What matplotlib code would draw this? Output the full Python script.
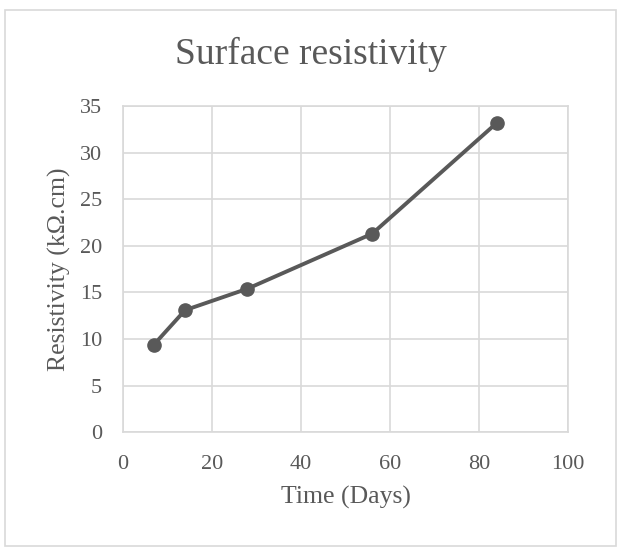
import matplotlib.pyplot as plt
from matplotlib.patches import Rectangle

days = [7, 14, 28, 56, 84]
resistivity = [9.4, 13.1, 15.4, 21.3, 33.2]
x_ticks = [0, 20, 40, 60, 80, 100]
y_ticks = [0, 5, 10, 15, 20, 25, 30, 35]

txt = "#595959"
grid = "#d9d9d9"
plt.rcParams['font.family'] = ['Liberation Serif', 'DejaVu Serif']

fig = plt.figure(figsize=(6.21, 5.5), dpi=100)
ax = fig.add_axes([0.1976, 0.214, 0.7174, 0.5933])

ax.plot(days, resistivity, color=txt, lw=2.8, marker="o", ms=9.5, zorder=3)

ax.set_xlim(0, 100)
ax.set_ylim(0, 35)
ax.set_xticks(x_ticks)
ax.set_yticks(y_ticks)
ax.grid(True, color=grid, lw=1.2)
ax.set_axisbelow(True)
for s in ax.spines.values():
    s.set_color(grid)
    s.set_linewidth(1.2)
ax.tick_params(length=0, labelsize=16, colors=txt)
ax.tick_params(axis="y", pad=15)
ax.tick_params(axis="x", pad=16)

ax.set_xlabel("Time (Days)", fontsize=18.5, color=txt)
ax.xaxis.set_label_coords(0.5, -0.165)
ax.set_ylabel("Resistivity (kΩ.cm)", fontsize=18.5, color=txt)
ax.yaxis.set_label_coords(-0.116, 0.5)
fig.text(0.5, 1 - 64 / 550, "Surface resistivity", ha="center", va="baseline",
         fontsize=27, color=txt)

fig.patches.append(Rectangle((5 / 621, 4 / 550), 611 / 621, 536 / 550,
                             transform=fig.transFigure, fill=False,
                             edgecolor=grid, lw=1.2))

fig.savefig("out.png", dpi=100)
